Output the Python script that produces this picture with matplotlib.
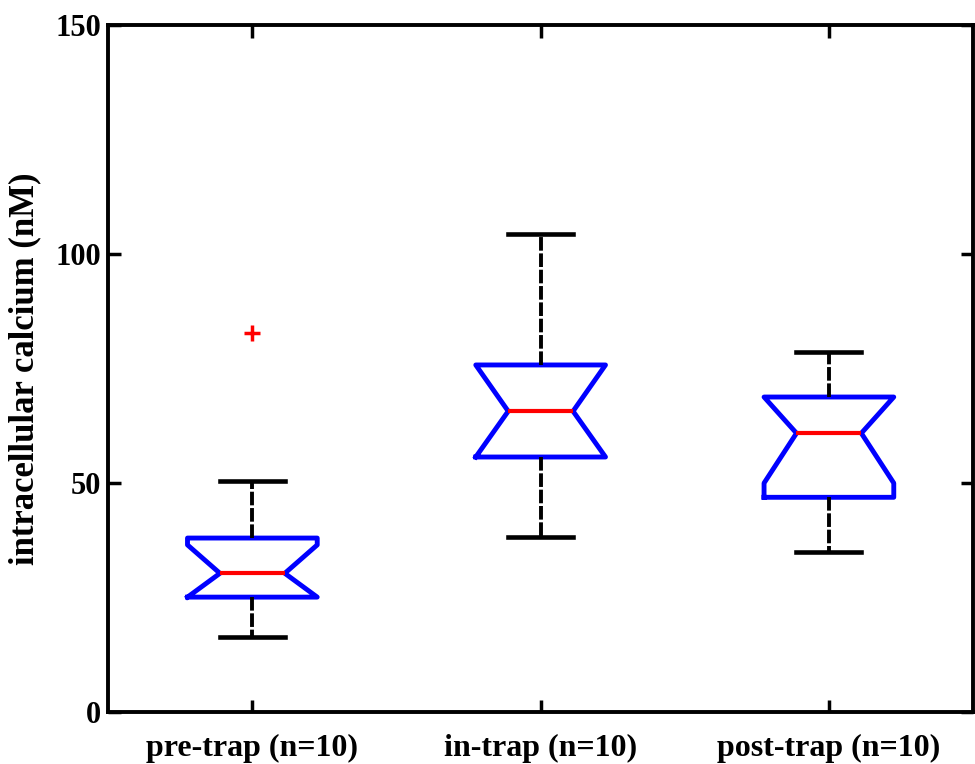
import matplotlib
matplotlib.use("Agg")
import matplotlib.pyplot as plt

# box statistics for each group (nM)
labels = ["pre-trap (n=10)", "in-trap (n=10)", "post-trap (n=10)"]
q1 = [25.1, 55.7, 46.9]
med = [30.3, 65.7, 60.9]
q3 = [38.0, 75.8, 68.8]
whislo = [16.4, 38.2, 34.9]
whishi = [50.4, 104.4, 78.6]
cilo = [25.1, 55.7, 50.0]
cihi = [36.5, 75.8, 68.8]
fliers = [[82.8], [], []]

plt.rcParams["font.family"] = "Liberation Serif"
plt.rcParams["font.weight"] = "bold"

stats = []
for i in range(len(labels)):
    stats.append(dict(label=labels[i], q1=q1[i], med=med[i], q3=q3[i],
                      whislo=whislo[i], whishi=whishi[i],
                      cilo=cilo[i], cihi=cihi[i], fliers=fliers[i]))

fig = plt.figure(figsize=(9.75, 7.64), dpi=100)
ax = fig.add_axes([0.111, 0.068, 0.887, 0.899])

ax.bxp(stats, shownotches=True, widths=0.45,
       boxprops=dict(color="blue", linewidth=3.5),
       medianprops=dict(color="red", linewidth=3.0),
       whiskerprops=dict(color="black", linewidth=2.8, linestyle=(0, (3.5, 0.7))),
       capprops=dict(color="black", linewidth=3.3),
       flierprops=dict(marker="+", markeredgecolor="red", markersize=12,
                       markeredgewidth=2.5))

ax.set_xlim(0.5, 3.5)
ax.set_ylim(0, 150)
ax.set_yticks([0, 50, 100, 150])
ax.set_xticks([1, 2, 3])
ax.set_xticklabels(labels)
ax.tick_params(direction="in", length=9, width=2.5, top=True, right=True,
               labelsize=23)
ax.tick_params(axis="x", pad=16)
ax.tick_params(axis="y", pad=5, labelsize=22)
for s in ax.spines.values():
    s.set_linewidth(2.8)

ax.set_ylabel("intracellular calcium (nM)", fontsize=25, fontweight="bold",
              labelpad=10)

fig.savefig("out.png", dpi=100)
